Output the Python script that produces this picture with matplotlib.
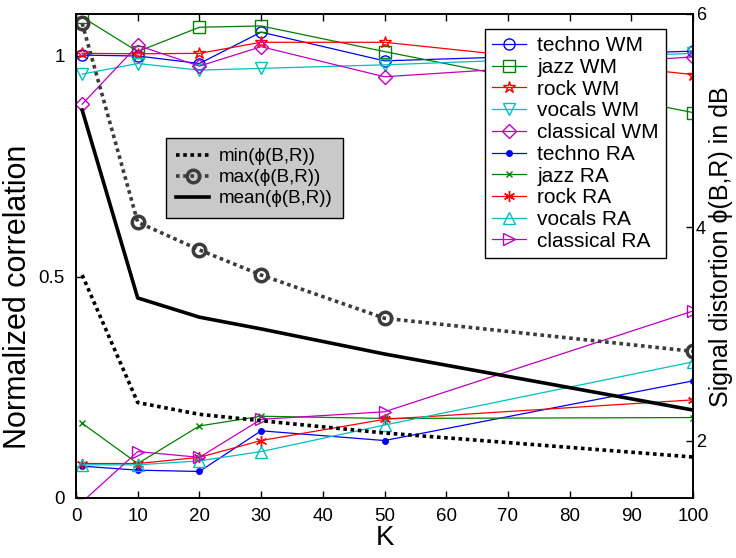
import matplotlib
matplotlib.use('Agg')
import matplotlib.pyplot as plt
import numpy as np

plt.rcParams['font.family'] = ['Liberation Sans', 'DejaVu Sans']

# K values
K = [1, 10, 20, 30, 50, 100]

# normalized correlation, weighted mean (WM)
techno_wm = [1.002, 1.000, 0.983, 1.054, 0.989, 1.011]
jazz_wm = [1.088, 1.010, 1.065, 1.068, 1.010, 0.872]
rock_wm = [1.006, 1.005, 1.006, 1.031, 1.031, 0.958]
vocals_wm = [0.959, 0.983, 0.968, 0.972, 0.980, 1.006]
classical_wm = [0.891, 1.024, 0.977, 1.021, 0.953, 0.998]

# normalized correlation, RA
techno_ra = [0.072, 0.063, 0.060, 0.152, 0.130, 0.265]
jazz_ra = [0.169, 0.078, 0.163, 0.185, 0.180, 0.182]
rock_ra = [0.078, 0.078, 0.092, 0.130, 0.178, 0.222]
vocals_ra = [0.075, 0.075, 0.084, 0.105, 0.165, 0.308]
classical_ra = [-0.009, 0.105, 0.092, 0.178, 0.195, 0.423]

# signal distortion phi(B,R) in dB
phi_min = [3.555, 2.36, 2.25, 2.19, 2.075, 1.85]
phi_max = [5.913, 4.05, 3.79, 3.555, 3.15, 2.84]
phi_mean = [5.10, 3.34, 3.16, 3.05, 2.815, 2.29]

B = (0, 0, 1)
G = (0, 0.5, 0)
R = (1, 0, 0)
C = (0, 0.75, 0.75)
M = (0.75, 0, 0.75)

fig = plt.figure(figsize=(7.36, 5.58), dpi=100)
ax1 = fig.add_axes([76 / 736, 1 - 498 / 558, (693 - 76) / 736, (498 - 14) / 558])
ax2 = ax1.twinx()

lw = 0.9
series = [
    (techno_wm, B, 'o', 8, 'techno WM'),
    (jazz_wm, G, 's', 8, 'jazz WM'),
    (rock_wm, R, '*', 9, 'rock WM'),
    (vocals_wm, C, 'v', 9, 'vocals WM'),
    (classical_wm, M, 'D', 7, 'classical WM'),
    (techno_ra, B, '.', 8, 'techno RA'),
    (jazz_ra, G, 'x', 5, 'jazz RA'),
    (rock_ra, R, '*', 8, 'rock RA'),
    (vocals_ra, C, '^', 9, 'vocals RA'),
    (classical_ra, M, '>', 9, 'classical RA'),
]
handles1 = []
for vals, col, mk, ms, name in series:
    if mk == '.':
        h, = ax1.plot(K, vals, color=col, marker='o', ms=4, mfc=col, mec=col, lw=lw, label=name)
    elif mk == 'x':
        h, = ax1.plot(K, vals, color=col, marker=mk, ms=ms, mew=1, lw=lw, label=name)
    elif mk == '*' and 'RA' in name:
        h, = ax1.plot(K, vals, color=col, marker=(6, 2, 0), ms=ms, mew=1, lw=lw, label=name)
    else:
        h, = ax1.plot(K, vals, color=col, marker=mk, ms=ms, mfc='none', mec=col, mew=1, lw=lw, label=name)
    handles1.append(h)

h_min, = ax2.plot(K, phi_min, color='black', lw=2.6, ls=(0, (1, 1)), label='min(\u03d5(B,R))')
h_max, = ax2.plot(K, phi_max, color='#3c3c3c', lw=2.6, ls=(0, (1, 1)), marker='o', ms=9,
                  mfc='none', mec='#3c3c3c', mew=2.5, label='max(\u03d5(B,R))')
h_mean, = ax2.plot(K, phi_mean, color='black', lw=2.6, label='mean(\u03d5(B,R))')

ax1.set_xlim(0, 100)
ax1.set_ylim(0, 1.095)
ax2.set_ylim(1.466, 6)
ax1.set_xticks(np.arange(0, 101, 10))
ax1.set_yticks([0, 0.5, 1])
ax1.set_yticklabels(['0', '0.5', '1'])
ax2.set_yticks([2, 4, 6])

ax1.tick_params(direction='in', top=True, labelsize=13.5, length=5, width=1)
ax1.tick_params(axis='y', pad=8)
ax1.tick_params(axis='x', pad=7)
ax2.tick_params(direction='in', labelsize=13, length=5, width=1, pad=2)
for ax in (ax1, ax2):
    for s in ax.spines.values():
        s.set_linewidth(1.2)

ax1.set_xlabel('K', fontsize=20, labelpad=0)
ax1.set_ylabel('Normalized correlation', fontsize=22)
ax1.yaxis.set_label_coords(-0.07, 0.415)
ax2.set_ylabel('Signal distortion \u03d5(B,R) in dB', fontsize=18)
ax2.yaxis.set_label_coords(1.026, 0.52)

leg1 = ax2.legend(handles=handles1, loc='upper right', bbox_to_anchor=(666 / 736, 1 - 29 / 558),
                  bbox_transform=fig.transFigure, fontsize=15, numpoints=1, labelspacing=0.13,
                  handlelength=1.6, handletextpad=0.55, borderpad=0.35, fancybox=False,
                  framealpha=1, edgecolor='black', borderaxespad=0)
leg1.get_frame().set_linewidth(1.0)
ax2.add_artist(leg1)

leg2 = ax2.legend(handles=[h_min, h_max, h_mean], loc='upper left',
                  bbox_to_anchor=(166 / 736, 1 - 138 / 558), bbox_transform=fig.transFigure,
                  fontsize=13.5, numpoints=1, labelspacing=0.2, handlelength=1.76,
                  handletextpad=0.53, borderpad=0.55, fancybox=False, framealpha=1,
                  facecolor='#c9c9c9', edgecolor='black', borderaxespad=0)
leg2.get_frame().set_linewidth(1.0)

fig.savefig('out.png', dpi=100)
